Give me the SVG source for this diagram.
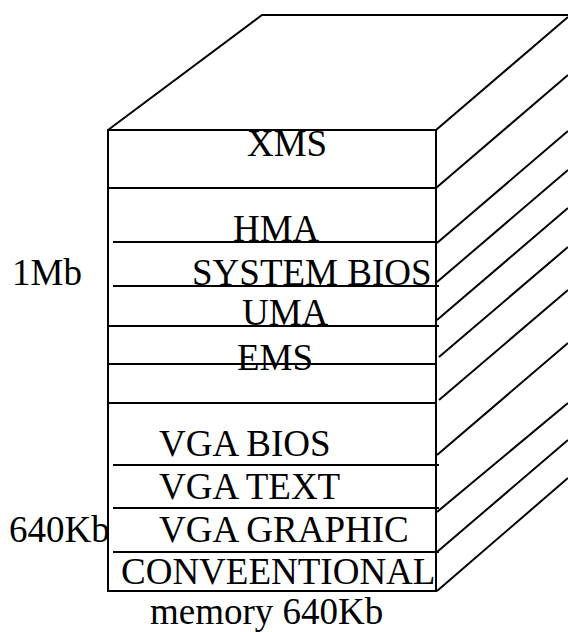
<svg xmlns="http://www.w3.org/2000/svg" width="568" height="632" viewBox="0 0 568 632">
<style>
.l{stroke:#000;stroke-width:2;fill:none;stroke-linecap:butt}
text{font-family:"Liberation Serif","Times New Roman",serif;font-size:37px;fill:#000}
</style>
<rect width="568" height="632" fill="#fff"/>
<g id="box">
<path class="l" d="M108,130 L262,15 L568,15"/>
<rect class="l" x="108" y="130" width="328" height="461"/>
</g>
<g id="connectors">
<path class="l" d="M108,188 H436 M113,242 H438 M113,286 H439 M108,326 H439 M108,364 H436 M108,403 H436 M113,465 H439 M113,508 H439 M113,552 H439"/>
<path class="l" d="M436,130 L568,17 M436,188 L568,75 M437,243 L568,131 M437,282 L568,170 M437,320 L568,208 M439,357 L568,247 M439,400 L568,290 M437,455 L568,343 M437,512 L568,403 M437,552 L568,440 M437,591 L568,478"/>
</g>
<g id="xms"><text x="247" y="156">XMS</text></g>
<g id="hma"><text x="233" y="241">HMA</text></g>
<g id="sysbios"><text x="192" y="285">SYSTEM BIOS</text></g>
<g id="uma"><text x="242" y="325">UMA</text></g>
<g id="ems"><text x="237" y="370">EMS</text></g>
<g id="vgabios"><text x="159" y="456">VGA BIOS</text></g>
<g id="vgatext"><text x="159" y="499">VGA TEXT</text></g>
<g id="vgagraphic"><text x="159" y="542">VGA GRAPHIC</text></g>
<g id="conventional"><text x="121" y="584">CONVEENTIONAL</text></g>
<g id="label1mb"><text x="12" y="285">1Mb</text></g>
<g id="label640"><text x="9" y="542">640Kb</text></g>
<g id="caption"><text x="150" y="624">memory 640Kb</text></g>
</svg>
